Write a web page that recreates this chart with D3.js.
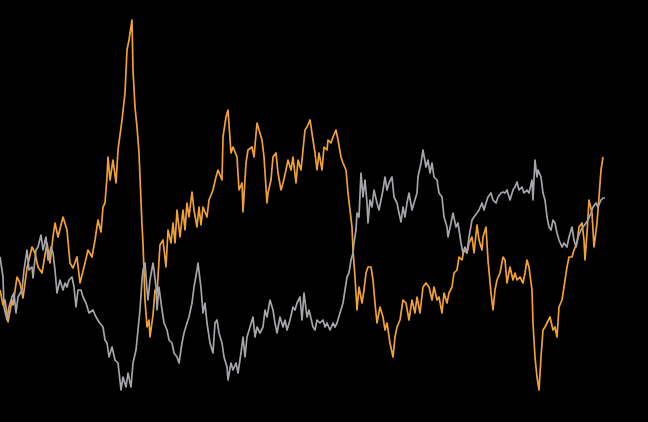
<!DOCTYPE html>
<html>
<head>
<meta charset="utf-8">
<script src="https://cdn.jsdelivr.net/npm/d3@7"></script>
<style>
html,body{margin:0;padding:0;background:#000;}
svg{display:block;}
</style>
</head>
<body>
<svg id="chart" width="648" height="422"></svg>
<script>
// [day, value]
const orangeSeries = [[0,110],[3,95],[5,100],[8,78],[12,100],[13,95],[17,123],[20,117],[23,102],[27,132],[32,153],[35,147],[38,133],[42,127],[47,157],[50,137],[53,163],[55,177],[58,163],[63,183],[67,170],[70,137],[73,132],[77,143],[80,117],[85,137],[88,150],[92,143],[95,160],[98,180],[101,168],[103,193],[105,197],[107,223],[108,243],[110,220],[113,240],[116,217],[118,250],[122,280],[125,307],[127,350],[129,360],[132,380],[133,330],[135,293],[137,273],[139,247],[142,175],[143,157],[145,100],[147,73],[149,80],[150,63],[153,85],[155,110],[157,107],[160,155],[163,160],[166,133],[168,170],[171,157],[173,177],[175,157],[177,190],[180,163],[183,190],[185,170],[187,197],[189,183],[192,208],[194,190],[197,173],[199,193],[201,175],[203,193],[205,188],[207,183],[209,200],[213,210],[216,223],[218,230],[222,220],[223,263],[226,283],[228,290],[231,247],[233,253],[237,243],[239,210],[242,217],[243,188],[246,237],[248,250],[252,253],[254,243],[257,277],[259,270],[262,260],[264,243],[267,197],[268,207],[271,220],[273,243],[276,247],[278,227],[281,210],[283,217],[286,230],[288,240],[291,230],[293,243],[296,217],[298,240],[301,230],[303,250],[305,270],[307,273],[310,280],[313,260],[315,247],[317,230],[319,247],[322,230],[324,253],[327,250],[328,260],[331,257],[333,263],[336,270],[338,260],[341,243],[343,237],[346,230],[348,207],[350,190],[352,173],[353,150],[355,123],[357,90],[359,113],[362,97],[364,110],[366,127],[368,133],[371,133],[373,120],[375,97],[377,77],[380,93],[383,83],[385,70],[387,77],[390,57],[393,43],[395,63],[397,73],[400,80],[403,100],[406,97],[409,80],[412,100],[415,87],[417,103],[420,87],[423,113],[426,117],[429,113],[432,100],[434,113],[437,100],[439,103],[442,87],[444,107],[447,97],[449,107],[452,113],[454,127],[457,130],[459,143],[462,140],[464,150],[467,147],[469,157],[472,163],[474,147],[477,175],[479,160],[482,150],[483,163],[486,173],[488,140],[491,107],[493,90],[495,110],[497,120],[500,127],[503,143],[505,140],[507,117],[510,133],[513,120],[515,127],[517,120],[520,123],[523,117],[525,127],[527,140],[529,133],[532,110],[533,77],[535,43],[537,23],[539,10],[541,43],[543,70],[545,73],[547,77],[550,83],[553,70],[555,73],[557,63],[559,93],[562,100],[564,113],[567,133],[569,143],[572,143],[574,150],[577,157],[579,173],[582,177],[584,160],[585,140],[587,167],[589,200],[592,187],[594,153],[597,177],[599,203],[601,230],[603,243]];

const graySeries = [[0,143],[3,123],[4,93],[7,80],[9,93],[12,103],[14,107],[16,87],[18,103],[22,110],[24,130],[27,150],[29,130],[32,133],[33,122],[36,150],[38,153],[41,165],[43,150],[46,163],[48,140],[51,153],[53,147],[55,130],[57,107],[60,120],[63,110],[65,117],[67,113],[69,120],[72,123],[74,113],[76,93],[78,110],[81,110],[83,103],[86,97],[89,87],[93,90],[96,83],[99,78],[103,73],[105,60],[107,57],[109,43],[112,53],[115,40],[118,37],[121,10],[123,23],[126,13],[128,27],[131,13],[133,37],[136,50],[138,70],[140,90],[142,120],[143,130],[145,137],[147,110],[148,100],[150,120],[153,137],[154,130],[156,113],[157,90],[159,113],[162,90],[164,77],[167,70],[169,60],[172,57],[174,47],[177,43],[179,37],[182,57],[184,67],[187,77],[189,83],[192,97],[194,113],[197,130],[198,137],[201,112],[203,87],[205,97],[207,77],[210,57],[213,47],[215,77],[217,80],[219,67],[222,57],[224,43],[227,33],[228,20],[231,37],[233,30],[236,37],[238,27],[241,47],[243,63],[245,43],[247,63],[250,73],[253,83],[255,63],[257,73],[260,67],[263,73],[265,90],[267,83],[270,100],[273,90],[275,77],[277,67],[280,83],[283,73],[285,80],[287,70],[290,80],[293,93],[295,90],[297,97],[300,103],[302,80],[304,107],[307,83],[309,90],[313,73],[315,70],[317,80],[320,77],[323,80],[325,73],[327,77],[330,70],[333,77],[335,73],[337,77],[340,87],[343,97],[345,110],[347,123],[349,127],[351,140],[353,147],[354,157],[356,170],[357,187],[359,183],[361,227],[363,203],[365,220],[367,197],[368,177],[370,200],[372,193],[374,210],[377,197],[379,190],[381,200],[383,210],[385,223],[387,210],[389,217],[392,223],[394,203],[397,197],[399,187],[401,178],[403,193],[405,183],[407,197],[409,207],[412,190],[414,197],[417,207],[418,223],[421,237],[423,250],[426,233],[428,240],[430,227],[432,237],[434,223],[437,220],[439,207],[442,203],[444,183],[447,173],[448,163],[451,177],[453,187],[456,173],[458,177],[461,157],[463,147],[465,153],[467,147],[469,163],[472,180],[474,183],[477,187],[479,190],[482,197],[484,190],[486,197],[488,203],[491,207],[493,200],[496,197],[498,203],[501,207],[503,208],[505,207],[507,210],[510,200],[513,210],[515,213],[517,218],[519,210],[522,213],[524,207],[527,210],[529,207],[532,220],[533,200],[535,240],[537,223],[538,230],[541,223],[543,207],[545,200],[547,183],[549,173],[551,170],[553,180],[555,177],[557,167],[559,160],[562,153],[564,157],[567,153],[569,163],[572,173],[574,160],[576,153],[578,163],[581,170],[583,173],[586,177],[588,180],[591,187],[593,193],[596,197],[598,193],[601,200],[603,202],[605,202]];

const seriesColors = { orange: "#f2a233", gray: "#a5a5ab" };

const width = 648, height = 422;
const svg = d3.select("#chart");
svg.append("rect").attr("width", width).attr("height", height).attr("fill", "#000");

const x = d3.scaleLinear().domain([0, 648]).range([0, 648]);
const y = d3.scaleLinear().domain([0, 400]).range([400, 0]);

const line = d3.line().x(d => x(d[0])).y(d => y(d[1])).curve(d3.curveLinear);

[[orangeSeries, seriesColors.orange], [graySeries, seriesColors.gray]].forEach(([s, c]) => {
  svg.append("path")
    .datum(s)
    .attr("fill", "none")
    .attr("stroke", c)
    .attr("stroke-width", 1.7)
    .attr("stroke-linejoin", "round")
    .attr("d", line);
});
</script>
</body>
</html>
